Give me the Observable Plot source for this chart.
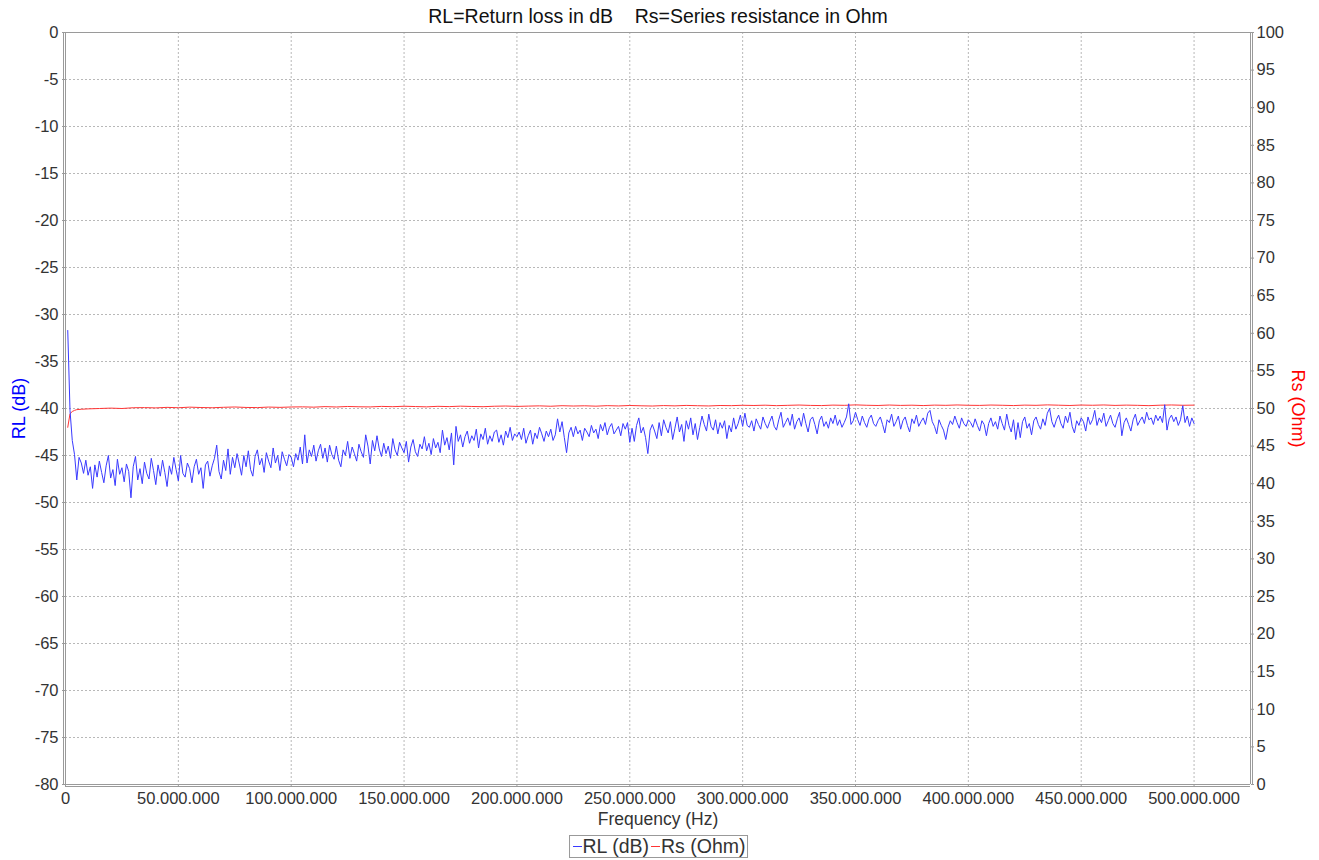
<!DOCTYPE html>
<html><head><meta charset="utf-8">
<script src="https://cdn.jsdelivr.net/npm/d3@7"></script>
<script src="https://cdn.jsdelivr.net/npm/@observablehq/plot@0.6"></script>
<style>
body{margin:0;background:#fff;font-family:"Liberation Sans",Arial,sans-serif;}
#chart{position:relative;width:1319px;}
#legend{position:absolute;top:835px;left:658.5px;transform:translateX(-50%);height:23px;border:1px solid #999;padding:0 2px;font-size:19.5px;color:#333;display:flex;align-items:center;white-space:nowrap;background:#fff;box-sizing:border-box;}
.sw{display:inline-block;width:9px;height:1px;margin:0 1px 0 1px;}
</style></head><body>
<div id="chart"></div>
<div id="legend"></div>
<script>
const titleText = "RL=Return loss in dB    Rs=Series resistance in Ohm";
const xLabel = "Frequency (Hz)";
const yLeftLabel = "RL (dB)";
const yRightLabel = "Rs (Ohm)";
const legendItems = ["RL (dB)", "Rs (Ohm)"];

// X ticks (Hz)
const xTicks = [0, 50e6, 100e6, 150e6, 200e6, 250e6, 300e6, 350e6, 400e6, 450e6, 500e6];
const yLeftTicks = [0, -5, -10, -15, -20, -25, -30, -35, -40, -45, -50, -55, -60, -65, -70, -75, -80];
const yRightTicks = [0, 5, 10, 15, 20, 25, 30, 35, 40, 45, 50, 55, 60, 65, 70, 75, 80, 85, 90, 95, 100];

// RL sweep: starts at 1 MHz, 1 MHz steps
const rlStartMHz = 1, rlStepMHz = 1;
const rlValues = [
-31.7,-40.2,-43.4,-44.9,-47.6,-45.2,-45.8,-46.9,-45.5,-47.1,
-46.2,-48.5,-46.0,-47.3,-45.6,-46.8,-47.9,-46.1,-45.0,-47.4,
-46.5,-48.2,-45.4,-47.0,-46.3,-47.8,-45.9,-46.7,-49.5,-46.2,
-45.1,-47.6,-46.4,-48.0,-45.7,-46.9,-47.5,-45.3,-46.6,-48.1,
-46.0,-47.2,-45.5,-46.8,-48.3,-46.1,-47.0,-45.2,-46.5,-47.7,
-45.0,-46.9,-47.3,-45.8,-46.4,-47.9,-46.2,-45.4,-47.0,-46.3,
-48.5,-46.0,-45.6,-47.2,-46.1,-45.3,-43.9,-46.7,-47.5,-45.5,
-46.6,-44.3,-47.0,-45.2,-46.3,-44.8,-45.9,-47.1,-45.0,-46.2,
-44.5,-46.5,-47.2,-45.1,-44.4,-46.0,-45.3,-46.8,-44.7,-45.6,
-46.3,-44.2,-45.8,-45.0,-46.6,-44.6,-45.4,-46.1,-44.9,-45.2,
-46.2,-44.8,-45.5,-44.1,-45.9,-42.8,-45.8,-44.4,-45.1,-43.9,
-45.6,-44.5,-43.8,-45.3,-44.2,-45.7,-43.9,-44.9,-45.4,-44.0,
-45.5,-46.2,-44.4,-45.0,-43.5,-45.3,-44.1,-44.8,-45.6,-43.8,
-44.6,-45.2,-42.8,-44.0,-45.9,-43.4,-44.5,-42.9,-44.3,-45.1,
-43.7,-44.8,-44.0,-45.3,-43.2,-44.4,-45.0,-43.6,-44.2,-44.7,
-43.5,-45.7,-44.1,-43.3,-44.6,-45.1,-43.8,-44.3,-43.0,-44.5,
-43.7,-44.9,-43.2,-44.2,-43.6,-44.7,-42.3,-43.9,-43.1,-44.4,
-42.6,-46.0,-41.9,-43.5,-42.8,-44.1,-43.0,-42.4,-43.7,-42.9,
-43.4,-42.2,-44.2,-42.7,-43.3,-42.1,-43.8,-42.9,-43.5,-42.5,
-42.3,-43.6,-42.8,-43.9,-42.4,-43.1,-42.0,-43.4,-42.7,-43.0,
-42.5,-43.3,-42.1,-43.7,-42.9,-42.3,-43.8,-42.6,-43.2,-42.0,
-42.7,-43.5,-42.4,-43.0,-42.2,-43.4,-42.8,-41.1,-42.5,-41.4,
-43.1,-44.7,-42.6,-42.0,-43.0,-41.9,-42.7,-42.3,-43.4,-42.1,
-42.5,-43.0,-41.8,-42.6,-42.2,-43.2,-41.7,-42.4,-41.5,-42.8,
-42.0,-41.6,-42.7,-42.3,-41.9,-42.9,-41.6,-42.2,-41.5,-43.6,
-42.1,-43.5,-41.8,-41.0,-42.6,-42.0,-43.1,-44.8,-42.3,-41.7,
-42.4,-43.2,-41.5,-42.9,-41.2,-42.0,-42.6,-41.4,-43.3,-42.1,
-40.9,-42.5,-41.7,-43.5,-41.3,-42.2,-41.0,-42.8,-41.6,-43.3,
-42.0,-40.8,-41.7,-42.4,-40.6,-41.9,-42.3,-41.2,-42.7,-41.5,
-42.1,-41.3,-43.2,-41.8,-42.5,-41.0,-42.2,-41.6,-40.7,-41.9,
-40.5,-41.8,-42.0,-41.3,-42.4,-41.1,-41.7,-42.2,-40.9,-41.6,
-42.1,-41.4,-40.8,-41.9,-42.3,-41.2,-40.4,-42.0,-41.5,-41.0,
-41.8,-40.6,-42.2,-41.4,-41.0,-41.9,-40.5,-41.6,-42.5,-41.2,
-40.9,-41.7,-42.7,-41.3,-40.8,-41.9,-41.4,-42.1,-41.0,-41.6,
-40.7,-41.8,-41.2,-42.0,-41.5,-40.9,-39.5,-41.7,-41.3,-40.4,
-41.2,-41.8,-40.8,-41.5,-42.0,-41.1,-40.7,-41.6,-41.9,-41.3,
-40.9,-41.7,-42.6,-41.2,-41.5,-40.6,-41.9,-41.4,-40.8,-42.2,
-41.3,-40.9,-41.8,-42.5,-41.1,-41.6,-40.7,-41.9,-41.4,-41.0,
-41.7,-40.5,-40.2,-41.4,-41.9,-42.7,-41.2,-41.8,-42.3,-43.3,
-42.0,-41.3,-41.7,-40.8,-41.5,-42.1,-41.0,-41.6,-41.9,-41.2,
-41.5,-42.0,-41.1,-41.8,-42.4,-41.3,-41.7,-42.9,-41.6,-41.0,
-41.9,-41.4,-42.2,-40.8,-41.6,-42.3,-40.6,-41.8,-42.5,-41.2,
-43.3,-41.5,-43.1,-41.4,-40.9,-42.1,-41.6,-42.8,-41.3,-40.9,
-41.7,-42.2,-41.1,-41.8,-40.5,-40.0,-41.4,-42.0,-41.2,-40.7,
-41.6,-42.1,-40.8,-41.5,-40.4,-41.9,-42.6,-41.3,-41.8,-41.0,
-41.4,-42.4,-40.9,-41.7,-41.2,-40.2,-41.8,-41.0,-41.5,-40.5,
-41.9,-41.3,-40.7,-41.6,-42.0,-41.1,-40.4,-42.9,-41.5,-41.0,
-41.7,-42.4,-41.2,-40.6,-41.8,-41.3,-40.9,-41.6,-40.4,-41.2,
-41.0,-41.7,-40.7,-41.3,-40.8,-41.5,-39.6,-42.3,-41.1,-40.7,
-41.4,-40.9,-41.8,-41.2,-39.7,-41.5,-40.8,-41.9,-41.0,-41.6
];

// Rs: dense at start, then every 5 MHz
const rsFreqMHz = [1,2,3,4,5,7,10,15,20,25,30,
35,40,45,50,55,60,65,70,75,80,85,90,95,100,
105,110,115,120,125,130,135,140,145,150,155,160,165,170,175,180,185,190,195,200,
205,210,215,220,225,230,235,240,245,250,255,260,265,270,275,280,285,290,295,300,
305,310,315,320,325,330,335,340,345,350,355,360,365,370,375,380,385,390,395,400,
405,410,415,420,425,430,435,440,445,450,455,460,465,470,475,480,485,490,495,500];
const rsValues = [47.5,49.3,49.6,49.75,49.85,49.9,49.95,50.0,50.05,50.0,50.1,
50.12,50.08,50.15,50.1,50.18,50.13,50.1,50.16,50.2,50.14,50.12,50.19,50.15,50.2,
50.22,50.18,50.25,50.2,50.27,50.23,50.21,50.28,50.24,50.3,50.26,50.22,50.29,50.25,50.31,50.27,50.24,50.3,50.33,50.28,
50.32,50.35,50.3,50.37,50.33,50.36,50.31,50.38,50.34,50.4,50.36,50.33,50.39,50.35,50.41,50.37,50.34,50.4,50.38,50.43,
50.4,50.44,50.38,50.42,50.46,50.41,50.39,50.45,50.42,50.48,50.43,50.4,50.46,50.41,50.44,50.39,50.45,50.42,50.47,50.43,
50.41,50.46,50.43,50.39,50.45,50.42,50.48,50.44,50.4,50.46,50.43,50.47,50.41,50.45,50.42,50.38,50.44,50.47,50.43,50.45];

const rlData = rlValues.map((v, i) => ({f: (rlStartMHz + i * rlStepMHz) * 1e6, v}));
const rsData = rsValues.map((r, i) => ({f: rsFreqMHz[i] * 1e6, r}));

// right axis (0..100 Ohm) shares the left scale (-80..0 dB)
const ohmToDb = r => -80 + r * 0.8;
const dbToOhm = d => Math.round((d + 80) / 0.8);
const fmtHz = d => d3.format(",")(d).replace(/,/g, ".");

const gridStyle = {stroke: "#b8b8b8", strokeOpacity: 1, strokeDasharray: "2,2", strokeWidth: 1};
const frameColor = "#9a9a9a";

const plot = Plot.plot({
  width: 1319,
  height: 834,
  marginTop: 32,
  marginLeft: 65,
  marginRight: 69,
  marginBottom: 50,
  x: {domain: [0, 525e6], label: null},
  y: {domain: [-80, 0], label: null},
  style: {fontFamily: "'Liberation Sans', Arial, sans-serif", fontSize: "16.5px", color: "#333", background: "#fff", overflow: "visible"},
  marks: [
    Plot.gridY(yLeftTicks.filter(d => d > -80 && d < 0), gridStyle),
    Plot.gridX(xTicks.filter(d => d > 0), gridStyle),
    Plot.ruleY([0], {stroke: frameColor}),
    Plot.ruleX([0], {stroke: frameColor, dx: -2}),
    Plot.ruleX([0], {stroke: frameColor}),
    Plot.ruleY([-80], {stroke: frameColor}),
    Plot.ruleY([-80], {stroke: frameColor, dy: 2}),
    Plot.ruleX([525e6], {stroke: frameColor}),
    Plot.ruleX([525e6], {stroke: frameColor, dx: 2}),
    Plot.axisY({anchor: "left", ticks: yLeftTicks, tickFormat: d => String(d), tickSize: 3, tickPadding: 4, stroke: frameColor, label: null}),
    Plot.axisY({anchor: "right", ticks: yRightTicks.map(ohmToDb), tickFormat: dbToOhm, tickSize: 3, tickPadding: 3, stroke: frameColor, label: null}),
    Plot.axisX({ticks: xTicks, tickFormat: fmtHz, tickSize: 3, tickPadding: 5, stroke: frameColor, label: null}),
    Plot.line(rsData, {x: "f", y: d => ohmToDb(d.r), stroke: "#ff3535", strokeWidth: 1}),
    Plot.line(rlData, {x: "f", y: "v", stroke: "#3a3aff", strokeWidth: 1}),
    Plot.text([titleText], {frameAnchor: "top", dy: -16, fontSize: 19.5, fill: "#111", text: d => d, lineAnchor: "middle", textAnchor: "middle"}),
    Plot.text([xLabel], {frameAnchor: "bottom", dy: 35, fontSize: 17.5, fill: "#333", text: d => d, lineAnchor: "middle", textAnchor: "middle"}),
    Plot.text([yLeftLabel], {frameAnchor: "left", dx: -46, rotate: -90, fontSize: 18, fill: "#0000ff", text: d => d, lineAnchor: "middle", textAnchor: "middle"}),
    Plot.text([yRightLabel], {frameAnchor: "right", dx: 47, rotate: 90, fontSize: 18, fill: "#ff0000", text: d => d, lineAnchor: "middle", textAnchor: "middle"})
  ]
});
document.getElementById("chart").appendChild(plot);

const lg = document.getElementById("legend");
const legendColors = ["#3a3aff", "#ff3535"];
legendItems.forEach((t, i) => {
  const s = document.createElement("span");
  s.className = "sw"; s.style.background = legendColors[i];
  lg.appendChild(s);
  const tx = document.createElement("span");
  tx.textContent = t; tx.style.marginRight = i === 0 ? "1px" : "0";
  lg.appendChild(tx);
});
</script>
</body></html>
